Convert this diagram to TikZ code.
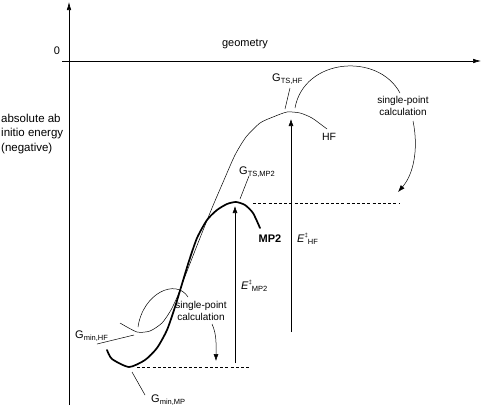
\documentclass[tikz,border=0pt]{standalone}
\usepackage{fontspec}
\setmainfont{Liberation Sans}
\usetikzlibrary{arrows.meta}
\newcommand{\Gsub}[1]{G\raisebox{-2.6pt}{\fontsize{7.5}{8}\selectfont #1}}
\newcommand{\Esub}[1]{\textit{E}\raisebox{4.5pt}{\fontsize{6}{6}\selectfont ‡}\raisebox{-2.6pt}{\fontsize{7.5}{8}\selectfont #1}}
\tikzset{
  axis/.style={line width=0.6pt,-{Latex[length=8pt,width=4.5pt]}},
  thinline/.style={line width=0.5pt},
  thickline/.style={line width=1.7pt,line join=round,line cap=round},
  barrier/.style={line width=0.6pt,-{Latex[length=7pt,width=5pt]}},
  calcarrow/.style={line width=0.5pt,-{Latex[length=7pt,width=5pt]}},
  level/.style={line width=0.5pt,dash pattern=on 3pt off 2.2pt},
  lbl/.style={font=\fontsize{11}{13}\selectfont,inner sep=0pt},
  small/.style={font=\fontsize{10}{12}\selectfont,inner sep=0pt,align=center},
}
\begin{document}
\begin{tikzpicture}[x=1pt,y=-1pt]
\useasboundingbox (0,0) rectangle (482,408);
% axes
\coordinate (ybot) at (69,405);
\coordinate (ytop) at (69,2);
\coordinate (xleft) at (62,61);
\coordinate (xright) at (481,61);
\draw[axis] (ybot) -- (ytop);
\draw[axis] (xleft) -- (xright);
\node[lbl] (zero) at (57,51) {0};
\node[lbl] (geom) at (245,44) {geometry};
\node[lbl,anchor=west,align=left,font=\fontsize{11.5}{14.5}\selectfont] (yl) at (1,134) {absolute ab\\initio energy\\(negative)};

% HF curve
\draw[thinline] plot[smooth,tension=0.4] coordinates {(120,323) (137,332) (150,331) (162,323) (171,310) (178,295) (184,279) (198,243) (212,208) (224,180) (235,155) (246,137) (260,123) (273,117) (287,112) (300,113) (312,118) (327,129)};
% MP2 curve
\draw[thickline] plot[smooth,tension=0.4] coordinates {(107,350) (112,359) (129,367) (145,360) (157,348) (167,330) (175,307) (182,284) (189,261) (197,238) (207,220) (217,210) (227,204) (236,202) (245,205) (253,213) (260,228)};

% named points
\coordinate (minHF) at (134,335);
\coordinate (minMP) at (132,372);
\coordinate (tsHF) at (285,109);
\coordinate (tsMP) at (240,199);

% dashed levels
\coordinate (dl1a) at (137,367);
\coordinate (dl1b) at (249,367);
\coordinate (dl2a) at (253,203);
\coordinate (dl2b) at (399,203);
\draw[level] (dl1a) -- (dl1b);
\draw[level] (dl2a) -- (dl2b);

% barrier arrows
\coordinate (ehfb) at (291,332);
\coordinate (ehft) at (291,119);
\coordinate (empb) at (235,363);
\coordinate (empt) at (235,206);
\draw[barrier] (ehfb) -- (ehft);
\draw[barrier] (empb) -- (empt);
\node[lbl,anchor=base west] (EHF) at (297,242) {\Esub{HF}};
\node[lbl,anchor=base west] (EMP) at (241,289) {\Esub{MP2}};

% curve labels
\node[lbl,font=\fontsize{10.5}{12}\selectfont] (HF) at (329,137) {HF};
\node[lbl,font=\fontsize{11}{13}\selectfont\bfseries] (MP2) at (270,239) {MP2};

% G labels
\node[lbl,anchor=base west] (GTSHF) at (272,81) {\Gsub{TS,HF}};
\node[lbl,anchor=base west] (GTSMP) at (239,174) {\Gsub{TS,MP2}};
\node[lbl,anchor=base west] (GminHF) at (75,338) {\Gsub{min,HF}};
\node[lbl,anchor=base west] (GminMP) at (151,402) {\Gsub{min,MP}};
\coordinate (lGTSHF) at (290,88);
\coordinate (lGTSMP) at (249,176);
\coordinate (lGminHF) at (97,344);
\coordinate (lGminMP) at (145,395);
\draw[thinline] (lGTSHF) -- (tsHF);
\draw[thinline] (lGTSMP) -- (tsMP);
\draw[thinline] (lGminHF) -- (minHF);
\draw[thinline] (lGminMP) -- (minMP);

% single-point calculation (upper)
\node[small] (sp1) at (403,106) {single-point\\calculation};
\coordinate (a1s) at (295,108);
\coordinate (a1e) at (400,93);
\draw[thinline] (a1s) .. controls (304,58) and (378,52) .. (a1e);
\coordinate (b1s) at (413,121);
\coordinate (b1e) at (398,192);
\draw[calcarrow] (b1s) .. controls (419,150) and (413,175) .. (b1e);

% single-point calculation (lower)
\node[small] (sp2) at (201,311) {single-point\\calculation};
\coordinate (a2s) at (138,327);
\coordinate (a2e) at (188,297);
\draw[thinline] (a2s) .. controls (143,293) and (176,278) .. (a2e);
\coordinate (b2s) at (212,324);
\coordinate (b2e) at (216,361);
\draw[calcarrow] (b2s) .. controls (217,335) and (216,345) .. (b2e);
\end{tikzpicture}
\end{document}
